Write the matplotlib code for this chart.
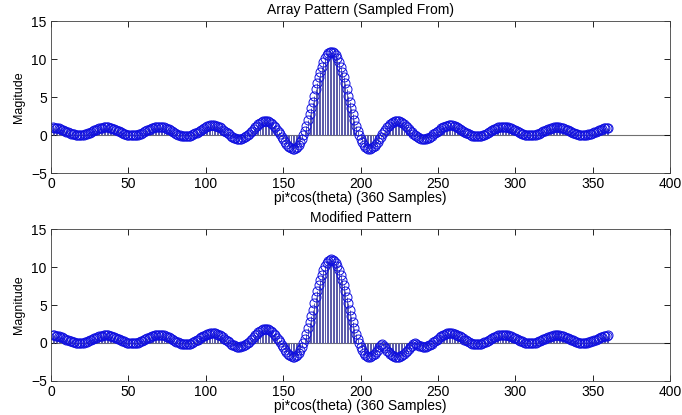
import numpy as np
import matplotlib
matplotlib.use("Agg")
import matplotlib.pyplot as plt

plt.rcParams['font.family'] = ['Liberation Sans', 'DejaVu Sans']

# sample index 1..360
samples = np.arange(1, 361)

# array pattern
sampled = [
    1.00, 0.99, 0.97, 0.93, 0.87, 0.80, 0.73, 0.64, 0.55, 0.46,
    0.37, 0.28, 0.20, 0.13, 0.08, 0.03, 0.01, -0.01, 0.00, 0.02,
    0.06, 0.11, 0.18, 0.26, 0.34, 0.43, 0.53, 0.62, 0.71, 0.79,
    0.87, 0.93, 0.98, 1.01, 1.02, 1.02, 1.00, 0.96, 0.91, 0.84,
    0.77, 0.68, 0.58, 0.49, 0.39, 0.29, 0.20, 0.12, 0.06, 0.00,
    -0.03, -0.05, -0.05, -0.04, 0.00, 0.05, 0.12, 0.20, 0.30, 0.40,
    0.50, 0.61, 0.71, 0.81, 0.89, 0.97, 1.03, 1.07, 1.10, 1.10,
    1.09, 1.05, 1.00, 0.93, 0.84, 0.74, 0.63, 0.52, 0.40, 0.28,
    0.17, 0.07, -0.01, -0.09, -0.14, -0.17, -0.18, -0.17, -0.13, -0.08,
    0.00, 0.10, 0.21, 0.33, 0.46, 0.60, 0.73, 0.86, 0.98, 1.09,
    1.17, 1.24, 1.28, 1.30, 1.29, 1.26, 1.20, 1.11, 1.00, 0.87,
    0.73, 0.57, 0.41, 0.24, 0.08, -0.07, -0.20, -0.32, -0.41, -0.47,
    -0.50, -0.50, -0.46, -0.39, -0.29, -0.16, 0.00, 0.18, 0.38, 0.59,
    0.81, 1.02, 1.22, 1.41, 1.57, 1.71, 1.81, 1.86, 1.88, 1.85,
    1.77, 1.64, 1.47, 1.25, 1.00, 0.72, 0.41, 0.09, -0.24, -0.56,
    -0.87, -1.15, -1.39, -1.58, -1.72, -1.79, -1.79, -1.70, -1.54, -1.28,
    -0.94, -0.51, 0.00, 0.59, 1.25, 1.97, 2.73, 3.54, 4.37, 5.21,
    6.04, 6.85, 7.63, 8.35, 9.01, 9.59, 10.09, 10.48, 10.77, 10.94,
    11.00,
    10.94, 10.77, 10.48, 10.09, 9.59, 9.01, 8.35, 7.63, 6.85, 6.04,
    5.21, 4.37, 3.54, 2.73, 1.97, 1.25, 0.59, 0.00, -0.51, -0.94,
    -1.28, -1.54, -1.70, -1.79, -1.79, -1.72, -1.58, -1.39, -1.15, -0.87,
    -0.56, -0.24, 0.09, 0.41, 0.72, 1.00, 1.25, 1.47, 1.64, 1.77,
    1.85, 1.88, 1.86, 1.81, 1.71, 1.57, 1.41, 1.22, 1.02, 0.81,
    0.59, 0.38, 0.18, 0.00, -0.16, -0.29, -0.39, -0.46, -0.50, -0.50,
    -0.47, -0.41, -0.32, -0.20, -0.07, 0.08, 0.24, 0.41, 0.57, 0.73,
    0.87, 1.00, 1.11, 1.20, 1.26, 1.29, 1.30, 1.28, 1.24, 1.17,
    1.09, 0.98, 0.86, 0.73, 0.60, 0.46, 0.33, 0.21, 0.10, 0.00,
    -0.08, -0.13, -0.17, -0.18, -0.17, -0.14, -0.09, -0.01, 0.07, 0.17,
    0.28, 0.40, 0.52, 0.63, 0.74, 0.84, 0.93, 1.00, 1.05, 1.09,
    1.10, 1.10, 1.07, 1.03, 0.97, 0.89, 0.81, 0.71, 0.61, 0.50,
    0.40, 0.30, 0.20, 0.12, 0.05, 0.00, -0.04, -0.05, -0.05, -0.03,
    0.00, 0.06, 0.12, 0.20, 0.29, 0.39, 0.49, 0.58, 0.68, 0.77,
    0.84, 0.91, 0.96, 1.00, 1.02, 1.02, 1.01, 0.98, 0.93, 0.87,
    0.79, 0.71, 0.62, 0.53, 0.43, 0.34, 0.26, 0.18, 0.11, 0.06,
    0.02, 0.00, -0.01, 0.01, 0.03, 0.08, 0.13, 0.20, 0.28, 0.37,
    0.46, 0.55, 0.64, 0.73, 0.80, 0.87, 0.93, 0.97, 0.99,
]

# the modified pattern differs only for samples 214..234 (lobe pushed negative)
mod_start = 214
mod_values = [
    -0.09, -0.41, -0.72, -1.00, -1.25, -1.47, -1.64, -1.77, -1.85, -1.88,
    -1.86, -1.81, -1.71, -1.57, -1.41, -1.22, -1.02, -0.81, -0.59, -0.38,
    -0.18,
]

modified = list(sampled)
modified[mod_start - 1:mod_start - 1 + len(mod_values)] = mod_values

titles = ["Array Pattern (Sampled From)", "Modified Pattern"]
ylabels = ["Magitude", "Magnitude"]
xlabel = "pi*cos(theta) (360 Samples)"

fig = plt.figure(figsize=(6.82, 4.15), dpi=100)
ax1 = fig.add_axes([0.0748, 0.583, 0.908, 0.366])
ax2 = fig.add_axes([0.0748, 0.082, 0.908, 0.366])

for ax, y, t, yl in zip([ax1, ax2], [sampled, modified], titles, ylabels):
    ml, sl, bl = ax.stem(samples, y, linefmt='b-', markerfmt='o', basefmt=' ')
    sl.set_linewidth(0.7)
    sl.set_color('#5858a8')
    ml.set_markerfacecolor('none')
    ml.set_markeredgecolor('#1010e0')
    ml.set_markeredgewidth(0.7)
    ml.set_markersize(6.5)
    ax.axhline(0, color='#707070', linewidth=0.8, zorder=0)
    ax.set_xlim(0, 400)
    ax.set_ylim(-5, 15)
    ax.set_xticks(np.arange(0, 401, 50))
    ax.set_yticks(np.arange(-5, 16, 5))
    ax.tick_params(direction='in', top=True, right=True, length=4, width=0.6,
                   labelsize=10, pad=3)
    for s in ax.spines.values():
        s.set_linewidth(0.6)
        s.set_color('#404040')
    ax.set_title(t, fontsize=10, pad=5)
    ax.set_xlabel(xlabel, fontsize=10, labelpad=0)
    ax.set_ylabel(yl, fontsize=9, labelpad=4)

fig.savefig("out.png", dpi=100)
